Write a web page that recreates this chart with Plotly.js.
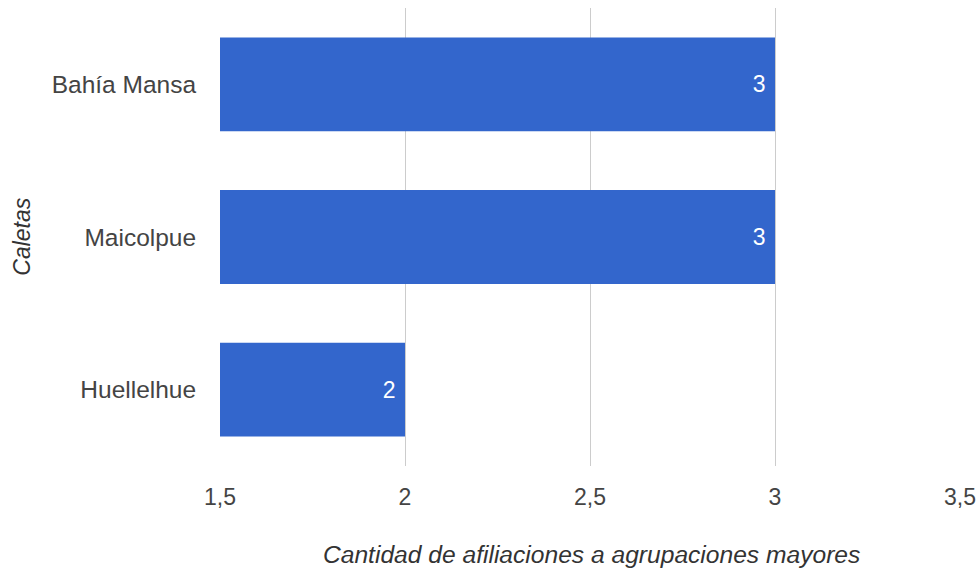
<!DOCTYPE html>
<html><head><meta charset="utf-8">
<script src="https://cdn.plot.ly/plotly-3.0.1.min.js"></script>
<style>html,body{margin:0;padding:0;background:#fff}#c{width:979px;height:569px}</style>
</head><body><div id="c"></div>
<script>
var categories = ['Bahía Mansa', 'Maicolpue', 'Huellelhue'];
var values = [3, 3, 2];
var labels = ['3', '3', '2'];
var tickVals = [1.5, 2, 2.5, 3, 3.5];
var tickText = ['1,5', '2', '2,5', '3', '3,5'];

var FONT = 'Arial, Liberation Sans, sans-serif';
var trace = {
  type: 'bar', orientation: 'h',
  x: values, y: categories,
  text: labels, textposition: 'inside', insidetextanchor: 'end',
  texttemplate: '%{text}\u00a0',
  textfont: {family: FONT, size: 23, color: '#ffffff'},
  marker: {color: '#3366cc'},
  width: 0.615,
  hoverinfo: 'none'
};
var layout = {
  width: 979, height: 569,
  margin: {l: 220, r: 19, t: 8, b: 103},
  paper_bgcolor: '#fff', plot_bgcolor: '#fff',
  showlegend: false,
  font: {family: FONT, size: 23, color: '#444'},
  xaxis: {
    range: [1.5, 3.5], tickvals: tickVals, ticktext: tickText,
    showgrid: true, gridcolor: '#cccccc', gridwidth: 1, zeroline: false,
    showline: false, ticks: 'outside', ticklen: 10, tickcolor: 'rgba(0,0,0,0)',
    tickfont: {family: FONT, size: 23, color: '#444'}, fixedrange: true
  },
  yaxis: {
    type: 'category', autorange: 'reversed',
    showgrid: false, zeroline: false, showline: false,
    ticks: 'outside', ticklen: 18, tickcolor: 'rgba(0,0,0,0)',
    tickfont: {family: FONT, size: 24.5, color: '#444'}
  },
  annotations: [
    {text: 'Cantidad de afiliaciones a agrupaciones mayores', xref: 'paper', yref: 'paper',
     x: 0.502, y: -0.193, xanchor: 'center', yanchor: 'middle', showarrow: false,
     font: {family: FONT, size: 24.6, color: '#333', style: 'italic'}},
    {text: 'Caletas', xref: 'paper', yref: 'paper', textangle: -90,
     x: -0.268, y: 0.5, xanchor: 'center', yanchor: 'middle', showarrow: false,
     font: {family: FONT, size: 23, color: '#333', style: 'italic'}}
  ]
};
Plotly.newPlot('c', [trace], layout, {displayModeBar: false, staticPlot: true});
</script></body></html>
